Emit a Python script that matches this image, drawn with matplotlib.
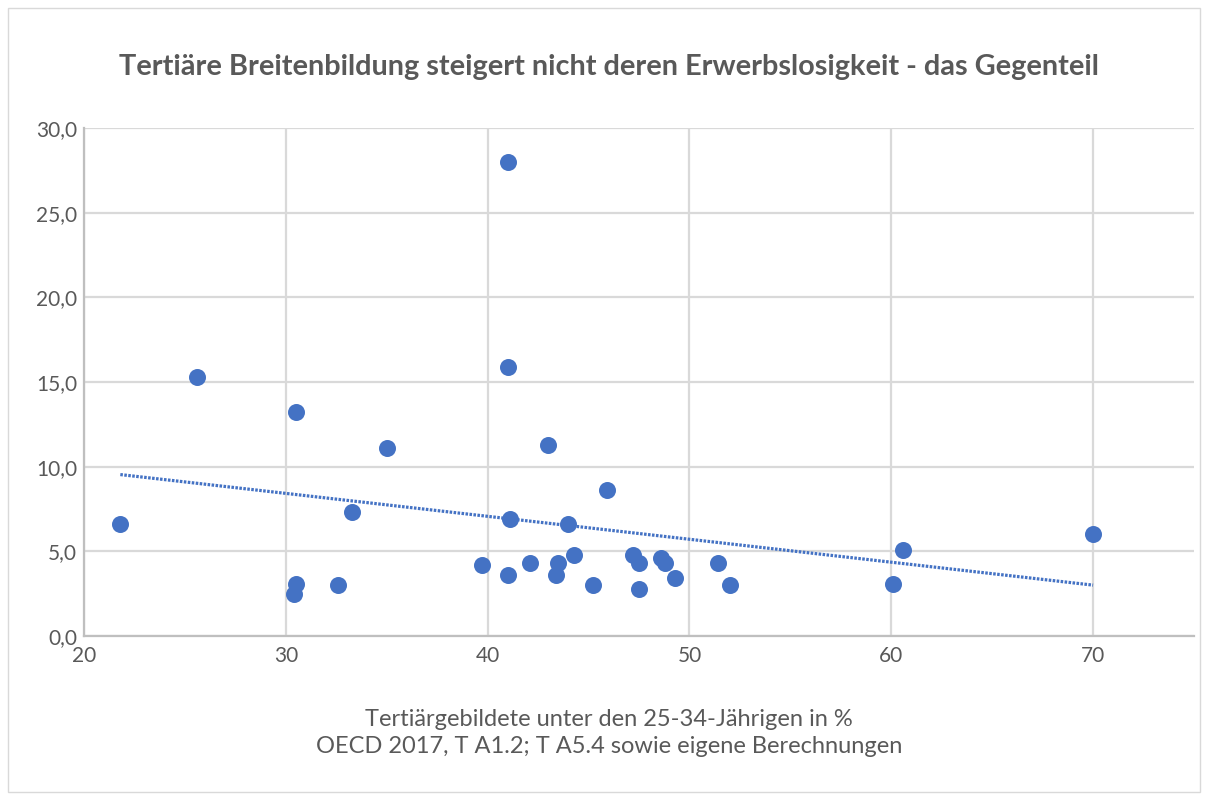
import numpy as np
import matplotlib
matplotlib.use("Agg")
import matplotlib.pyplot as plt
from matplotlib.patches import Rectangle

# Tertiärgebildete (25-34) in % vs. Erwerbslosigkeit
tert_quote = [21.8, 25.6, 30.5, 30.5, 30.4, 32.6, 33.3, 35.0, 39.7, 41.0, 41.0,
              41.1, 41.0, 42.1, 43.0, 43.4, 43.5, 44.0, 44.3, 45.2, 45.9, 47.2,
              47.5, 47.5, 48.6, 48.8, 49.3, 51.4, 52.0, 60.1, 60.6, 70.0]
erwerbslos = [6.6, 15.3, 13.2, 3.1, 2.5, 3.0, 7.3, 11.1, 4.2, 28.0, 15.9,
              6.9, 3.6, 4.3, 11.3, 3.6, 4.3, 6.6, 4.8, 3.0, 8.6, 4.8,
              4.3, 2.8, 4.6, 4.3, 3.4, 4.3, 3.0, 3.1, 5.1, 6.0]
x_ticks = [20, 30, 40, 50, 60, 70]
y_ticks = [0, 5, 10, 15, 20, 25, 30]

blue = "#4472C4"
grey_text = "#595959"
grid_col = "#d9d9d9"

plt.rcParams["font.family"] = ["Lato", "DejaVu Sans"]

fig = plt.figure(figsize=(12.06, 8), dpi=100)
ax = fig.add_axes([84 / 1206, 1 - 636 / 800, (1194 - 84) / 1206, (636 - 128) / 800])

# outer chart border
fig.add_artist(Rectangle((8 / 1206, 8 / 800), 1192 / 1206, 784 / 800,
                         transform=fig.transFigure, fill=False,
                         edgecolor="#d9d9d9", linewidth=1))

ax.scatter(tert_quote, erwerbslos, s=150, color=blue, zorder=3, linewidths=0)

# linear trendline
k, d = np.polyfit(tert_quote, erwerbslos, 1)
xs = np.array([min(tert_quote), max(tert_quote)])
ax.plot(xs, k * xs + d, color=blue, linewidth=2.3,
        linestyle=(0, (0.8, 0.45)), zorder=2)

ax.set_xlim(20, 75)
ax.set_ylim(0, 30)
ax.set_xticks(x_ticks)
ax.set_yticks(y_ticks)
ax.set_yticklabels([f"{v:.1f}".replace(".", ",") for v in y_ticks])
ax.grid(True, color=grid_col, linewidth=1.6, zorder=0)
ax.set_axisbelow(True)
for s in ["top", "right"]:
    ax.spines[s].set_visible(False)
for s in ["left", "bottom"]:
    ax.spines[s].set_color("#bfbfbf")
    ax.spines[s].set_linewidth(1.6)
ax.tick_params(length=0, labelsize=15, labelcolor=grey_text)
ax.tick_params(axis="y", pad=5)
ax.tick_params(axis="x", pad=7)

ax.set_xlabel("Tertiärgebildete unter den 25-34-Jährigen in %\n"
              "OECD 2017, T A1.2; T A5.4 sowie eigene Berechnungen",
              fontsize=17, color=grey_text, labelpad=31, linespacing=1.35)
ax.xaxis.label.set_x((609 - 84) / 1110)
fig.text(609 / 1206, 1 - 67 / 800,
         "Tertiäre Breitenbildung steigert nicht deren Erwerbslosigkeit - das Gegenteil",
         ha="center", va="center", fontsize=20.8, fontweight="bold", color=grey_text)

fig.savefig("out.png", dpi=100)
